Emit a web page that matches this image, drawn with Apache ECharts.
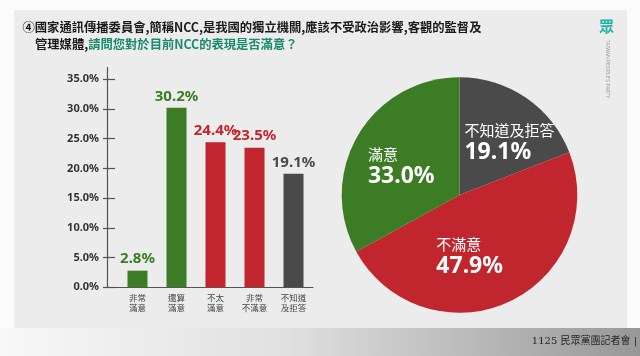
<!DOCTYPE html>
<html><head><meta charset="utf-8">
<script src="https://cdn.jsdelivr.net/npm/echarts@6/dist/echarts.min.js"></script>
<style>html,body{margin:0;padding:0;background:#fbfbfb}#c{width:640px;height:356px}</style>
</head><body><div id="c"></div>
<script>
// ---- data ----
const barCategories = ['非常\n滿意', '還算\n滿意', '不太\n滿意', '非常\n不滿意', '不知道\n及拒答'];
const barValues = [2.8, 30.2, 24.4, 23.5, 19.1];
const barGroups = ['sat', 'sat', 'unsat', 'unsat', 'unk'];
const pieNames = ['不知道及拒答', '不滿意', '滿意'];
const pieValues = [19.1, 47.9, 33.0];
const pieGroups = ['unk', 'unsat', 'sat'];
const yTickValues = [0, 5, 10, 15, 20, 25, 30, 35];
const yMax = 37;

// ---- styles ----
const colors = { sat: '#3b7c25', unsat: '#c1252d', unk: '#4a4a4a' };
const FF = '"Noto Sans", "Noto Sans CJK TC", sans-serif';
const CJK = '"Noto Sans CJK TC", sans-serif';
const pieLabelPad = { unk: [0, 0, 3, 30], sat: [6, 10, 0, 0], unsat: [11, 32, 0, 0] };

const chart = echarts.init(document.getElementById('c'), null, { renderer: 'canvas' });
const option = {
  backgroundColor: '#fbfbfb',
  animation: false,
  graphic: [
    { type: 'rect', z: -10, shape: { x: 14, y: 10, width: 613, height: 318 }, style: { fill: '#ececec' } },
    { type: 'rect', z: -10, shape: { x: 0, y: 328, width: 640, height: 28 },
      style: { fill: new echarts.graphic.LinearGradient(0, 0, 1, 0, [
        { offset: 0, color: '#f8f8f8' }, { offset: 0.45, color: '#e0e0e0' }, { offset: 1, color: '#979797' }]) } },
    { type: 'text', right: 3, top: 336, style: { text: '1125 民眾黨團記者會 |', fontFamily: '"DejaVu Serif", "Noto Sans CJK TC", serif', fontSize: 10, fill: '#262626' } },
    { type: 'text', x: 599, y: 19, style: { text: '眾', fontFamily: CJK, fontSize: 15, fontWeight: 'bold', fill: '#1fb3a8' } },
    { type: 'text', x: 610, y: 40, rotation: -Math.PI / 2, style: { text: "TAIWAN PEOPLE'S PARTY", fontFamily: FF, fontSize: 5, fill: '#9a9a9a' } }
  ],
  title: {
    left: 22.5, top: 18.5, padding: 0,
    text: '{a|④國家通訊傳播委員會,簡稱NCC,是我國的獨立機關,應該不受政治影響,客觀的監督及}\n{i|}{a|管理媒體,}{b|請問您對於目前NCC的表現是否滿意？}',
    textStyle: {
      rich: {
        a: { fontFamily: CJK, fontSize: 12.3, fontWeight: 'bold', color: '#1a1a1a', lineHeight: 17 },
        b: { fontFamily: CJK, fontSize: 12.3, fontWeight: 'bold', color: '#1b8a6d', lineHeight: 17 },
        i: { width: 12.5, lineHeight: 17 }
      }
    }
  },
  grid: [
    { left: 107, top: 67.4, width: 206, height: 219.9, outerBoundsMode: 'none' },
    { left: 118, top: 67.4, width: 195, height: 219.9, outerBoundsMode: 'none' }
  ],
  xAxis: [
    { type: 'value', gridIndex: 0, min: 0, max: 1, axisLine: { show: true, lineStyle: { color: '#555', width: 1.2 } },
      axisTick: { show: false }, axisLabel: { show: false }, splitLine: { show: false } },
    { type: 'category', gridIndex: 1, data: barCategories, axisLine: { show: false }, axisTick: { show: false },
      axisLabel: { fontFamily: CJK, fontSize: 8.5, lineHeight: 10.5, color: '#444', margin: 5, interval: 0 } }
  ],
  yAxis: [
    { type: 'value', gridIndex: 0, min: 0, max: yMax,
      axisLine: { show: true, lineStyle: { color: '#555', width: 1.2 } },
      axisTick: { show: true, inside: true, length: 8, customValues: yTickValues, lineStyle: { color: '#555', width: 1.2 } },
      axisLabel: { customValues: yTickValues, formatter: v => v.toFixed(1) + '%', fontFamily: FF, fontSize: 11, fontWeight: 'bold', color: '#333', margin: 8 },
      splitLine: { show: false } },
    { type: 'value', gridIndex: 0, min: 0, max: yMax, position: 'left',
      axisLine: { show: false },
      axisTick: { show: true, inside: false, length: 4, customValues: yTickValues, lineStyle: { color: '#555', width: 1.2 } },
      axisLabel: { show: false }, splitLine: { show: false } },
    { type: 'value', gridIndex: 1, min: 0, max: yMax, show: false, splitLine: { show: false } }
  ],
  series: [
    {
      type: 'bar', xAxisIndex: 1, yAxisIndex: 2, barWidth: 20,
      data: barValues.map((v, i) => ({
        value: v,
        itemStyle: { color: colors[barGroups[i]] },
        label: { color: colors[barGroups[i]] }
      })),
      label: { show: true, position: 'top', distance: 4, formatter: p => p.value.toFixed(1) + '%',
        fontFamily: FF, fontSize: 15, fontWeight: 'bold' }
    },
    {
      type: 'pie', center: [459.5, 195], radius: 117.8, startAngle: 90, clockwise: true,
      labelLine: { show: false },
      data: pieValues.map((v, i) => ({
        name: pieNames[i], value: v,
        itemStyle: { color: colors[pieGroups[i]] },
        label: { padding: pieLabelPad[pieGroups[i]] }
      })),
      label: {
        show: true, position: 'inside',
        formatter: p => '{n|' + p.name + '}\n{v|' + p.value.toFixed(1) + '%}',
        rich: {
          n: { fontFamily: CJK, fontSize: 15, color: '#fff', lineHeight: 20, align: 'left' },
          v: { fontFamily: FF, fontSize: 23, fontWeight: 'bold', color: '#fff', lineHeight: 25, align: 'left' }
        }
      }
    }
  ]
};
chart.setOption(option);
</script>
</body></html>
